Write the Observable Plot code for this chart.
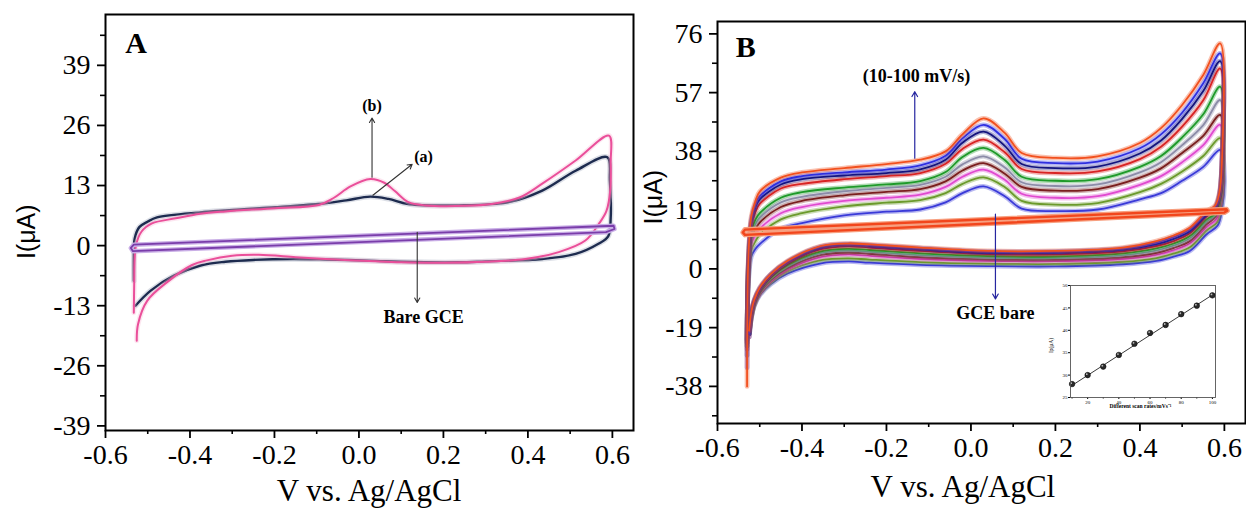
<!DOCTYPE html>
<html><head><meta charset="utf-8">
<style>
body{margin:0;background:#fff}
#wrap{position:relative;width:1246px;height:508px;overflow:hidden;background:#fff}
.p{position:absolute}
</style>
<script src="https://cdn.jsdelivr.net/npm/d3@7"></script>
<script src="https://cdn.jsdelivr.net/npm/@observablehq/plot@0.6"></script>
</head><body><div id="wrap"></div>
<script>
// ---------- ticks ----------
const xTicks = [-0.6,-0.4,-0.2,0.0,0.2,0.4,0.6];
const xMinor = [-0.5,-0.3,-0.1,0.1,0.3,0.5];
const yTicksA = [-39,-26,-13,0,13,26,39];
const yMinorA = [-32.5,-19.5,-6.5,6.5,19.5,32.5,45.5];
const yTicksB = [-38,-19,0,19,38,57,76];
const yMinorB = [-47.5,-28.5,-9.5,9.5,28.5,47.5,66.5];

// ---------- panel A : [V, I(µA)] in sweep order ----------
const cvA_a = [[-0.533,-7.6],[-0.533,-2.5],[-0.531,1.5],[-0.52,4.0],[-0.5,5.2],[-0.478,6.1],[-0.375,7.2],[-0.316,7.6],[-0.198,8.3],[-0.095,9.0],[-0.03,9.8],[0.027,10.6],[0.07,10.1],[0.117,9.0],[0.236,8.7],[0.354,9.4],[0.434,11.9],[0.513,16.2],[0.588,19.1],[0.594,14],[0.596,6],[0.59,2.0],[0.567,0.4],[0.513,-1.8],[0.434,-2.9],[0.3,-3.4],[0.236,-3.6],[0.1,-3.5],[0.039,-3.3],[-0.08,-3.0],[-0.158,-2.9],[-0.25,-3.1],[-0.316,-3.5],[-0.375,-4.3],[-0.438,-6.5],[-0.493,-9.75],[-0.529,-13]];
const cvA_b = [[-0.533,-14.5],[-0.532,-8],[-0.531,-3],[-0.528,0],[-0.515,3],[-0.49,4.8],[-0.434,5.9],[-0.375,6.9],[-0.316,7.4],[-0.198,8.1],[-0.095,8.8],[-0.06,10.3],[-0.02,12.8],[0.027,14.4],[0.06,13.6],[0.085,11.8],[0.117,9.4],[0.158,8.7],[0.25,8.6],[0.315,9.0],[0.38,10.4],[0.434,13.4],[0.513,18.4],[0.592,23.8],[0.596,18],[0.595,12],[0.586,7.5],[0.568,4.7],[0.536,1.1],[0.473,-1.4],[0.394,-2.9],[0.3,-3.5],[0.2,-3.7],[0.1,-3.6],[0.039,-3.4],[-0.079,-2.9],[-0.15,-2.5],[-0.237,-2.0],[-0.3,-2.2],[-0.36,-3.2],[-0.395,-4.2],[-0.454,-7.9],[-0.501,-11.9],[-0.523,-17],[-0.526,-20.6]];
const cvA_bare = [[-0.535,-1.2],[0.585,2.9],[0.605,3.6],[0.603,4.3],[-0.533,0.2],[-0.54,-0.5],[-0.535,-1.2]];

// ---------- panel B : scan rates 10..100 mV/s ----------
const rates = [10,20,30,40,50,60,70,80,90,100];
const colorsB = ["#3a3ad8","#6b9a2c","#e04ad0","#7a1f1f","#8c8ca8","#1f9a2a","#d82424","#14147e","#2f2fe0","#f2501e"];
const startMinB = [-23,-23,-24,-24,-25,-25,-26,-28,-32,-38];
const vLeftB = [-0.527,-0.52,-0.51];
const leftB1 = [-5,-4,-3,-2,-1,0,1,1,2,3];
const leftB2 = [4,6,8,10,11,12,14,15,16,17];
const leftB3 = [6.5,9,11,13,14.5,16,18.5,20,21,22];
const vUpB = [-0.5,-0.45,-0.4,-0.3,-0.2,-0.12,-0.06,-0.02,0.03,0.08,0.12,0.2,0.3,0.4,0.45,0.5,0.55,0.59];
const upB_10  = [8,13,14.8,17.3,18.5,19.2,21.5,24.5,26.7,23.5,19.5,18.7,19.2,22.5,24.5,28.5,33,38.5];
const upB_20  = [11,16,18,20.2,21.4,22.2,24.5,27.5,29.6,26.5,22,20.8,21.3,24.8,27.5,31.5,36.5,42.3];
const upB_30  = [13,18,20,22,23,24,26.5,29.8,32.1,28.8,24.3,23,23.5,27.2,30,34.5,40,46.6];
const upB_40  = [15,20,22,23.8,24.9,25.8,28.3,31.8,34.2,30.8,26.5,25.3,25.8,29.5,32.5,37.5,43,49.8];
const upB_50  = [16.5,21.5,23.3,25.1,26.2,27.2,29.8,33.8,36.4,32.8,28,26.8,27.3,31.2,34.5,40,46.5,54.6];
const upB_60  = [18,23,24.8,26.3,27.3,28.4,31.3,36.2,39.1,35.2,29.8,28.5,29,33,36.5,42.5,50,58.9];
const upB_70  = [21,26,27.5,29,30,31,34,38.8,41.8,37.7,32.3,31,31.5,35.5,39.5,46,54.5,64.8];
const upB_80  = [22.5,27.3,29,30.2,31,32.2,35.3,40.8,44.4,39.8,33.9,32.6,33.1,37.3,41.5,48.5,57.5,67.2];
const upB_90  = [23.5,28.3,30,31.2,32.1,33.5,36.6,42.2,46.6,42,35.6,34.2,34.7,39,43.5,50.5,60,69.7];
const upB_100 = [25,29.5,31.2,32.6,33.9,35.3,38,43.5,48.7,44,37.5,35.9,36.4,40.7,45.5,53,62.7,72.9];
const vDrop1 = [0.6,0.598,0.597,0.596,0.595,0.595,0.594,0.594,0.594,0.594];
const vDrop2 = [0.594,0.592,0.591,0.59,0.589,0.589,0.588,0.588,0.588,0.588];
const vDrop3 = [0.584,0.582,0.581,0.58,0.579,0.579,0.578,0.578,0.578,0.578];
const dropB1 = [30,30,31,31,32,32,33,33,34,34];
const dropB2 = [19,20,21,21.5,22,22.5,23,23.5,24,24.5];
const dropB3 = [14,15,16,17,17.5,18,19,19.5,20,20.5];
const vLoB = [0.558,0.518,0.48,0.439,0.36,0.2,0.04,-0.12,-0.24,-0.29,-0.355,-0.434,-0.474,-0.5,-0.513,-0.52,-0.525];
const loB_10  = [11.2,5.8,4.0,2.6,1.5,0.8,0.9,1.3,2.0,2.4,1.8,-1.5,-4.9,-8.5,-12,-16,-22];
const loB_20  = [12.5,7.0,5.0,3.5,2.3,1.6,1.7,2.2,3.0,3.4,2.8,-0.8,-4.5,-8.2,-11.8,-16,-22];
const loB_30  = [13.5,8.2,6.0,4.5,3.2,2.5,2.6,3.2,4.2,4.6,3.8,-0.2,-4,-8,-11.6,-16,-22];
const loB_40  = [14.5,9.0,6.8,5.2,3.8,3.0,3.1,3.8,4.9,5.3,4.5,0.3,-3.6,-7.7,-11.4,-15.5,-21];
const loB_50  = [15.3,9.8,7.5,5.9,4.4,3.5,3.6,4.4,5.5,5.9,5.1,0.8,-3.2,-7.4,-11.2,-15.5,-21];
const loB_60  = [16,10.6,8.2,6.6,5.0,4.0,4.1,5.0,6.1,6.5,5.7,1.3,-2.8,-7.1,-11,-15,-21];
const loB_70  = [17,11.5,9.0,7.4,5.7,4.7,4.8,5.8,6.9,7.3,6.4,1.8,-2.4,-6.8,-10.6,-14.5,-21];
const loB_80  = [17.5,12.2,9.7,8.0,6.2,5.2,5.2,6.3,7.4,7.8,6.9,2.2,-2.0,-6.5,-10.3,-14.5,-21];
const loB_90  = [18.2,12.8,10.3,8.5,6.6,5.6,5.6,6.7,7.7,8.0,7.2,2.4,-1.8,-6.2,-10.1,-14,-21];
const loB_100 = [18.7,13.3,10.8,9.0,6.9,5.8,5.8,6.9,7.9,8.2,7.4,2.6,-1.7,-6,-10,-14,-20];
const cvB_bare = [[-0.535,11.0],[0.6,18.2],[0.607,18.8],[0.605,19.3],[-0.535,12.7],[-0.54,11.8],[-0.535,11.0]];

// ---------- inset: peak current vs scan rate ----------
const scanRates = [10,20,30,40,50,60,70,80,90,100];
const peakCurrents = [28.0,30.0,31.9,34.5,37.0,39.4,41.2,43.6,45.5,47.8];
const fitRates = [10,100];
const fitCurrents = [27.7,47.9];
const insetXTicks = [20,40,60,80,100];
const insetXMinor = [10,30,50,70,90];
const insetYTicks = [25,30,35,40,45,50];

// ---------- helpers ----------
const serif = "Liberation Serif, Times New Roman, serif";
const upRows = [upB_10,upB_20,upB_30,upB_40,upB_50,upB_60,upB_70,upB_80,upB_90,upB_100];
const loRows = [loB_10,loB_20,loB_30,loB_40,loB_50,loB_60,loB_70,loB_80,loB_90,loB_100];
const curvesB = rates.map((r, i) => {
  const pts = [[-0.53, startMinB[i]], [vLeftB[0], leftB1[i]], [vLeftB[1], leftB2[i]], [vLeftB[2], leftB3[i]]];
  vUpB.forEach((v, j) => pts.push([v, upRows[i][j]]));
  pts.push([vDrop1[i], dropB1[i]], [vDrop2[i], dropB2[i]], [vDrop3[i], dropB3[i]]);
  vLoB.forEach((v, j) => pts.push([v, loRows[i][j]]));
  return pts;
});

function axes(yt, ym) {
  return [
    Plot.axisX({ticks: xTicks, tickSize: 8, tickPadding: 6, tickFormat: d => d.toFixed(1), strokeWidth: 1.8, fontSize: 28, fontFamily: serif, label: null}),
    Plot.axisX({ticks: xMinor, tickSize: 4, tickFormat: () => "", strokeWidth: 1.6, label: null}),
    Plot.axisY({ticks: yt, tickSize: 8, tickPadding: 7, tickFormat: d => String(d), strokeWidth: 1.8, fontSize: 28, fontFamily: serif, label: null}),
    Plot.axisY({ticks: ym, tickSize: 5, tickFormat: () => "", strokeWidth: 1.6, label: null})
  ];
}
function cv(pts, color, w, glow) {
  const o = {x: d => d[0], y: d => d[1], curve: "catmull-rom"};
  return [
    Plot.line(pts, {...o, stroke: glow, strokeWidth: w + 3, strokeOpacity: 0.35}),
    Plot.line(pts, {...o, stroke: color, strokeWidth: w})
  ];
}
function label(x, y, t, extra) {
  return Plot.text([{x, y, t}], {x: "x", y: "y", text: "t", fontFamily: serif, ...extra});
}
function place(el, left, top) {
  const d = document.createElement("div");
  d.className = "p"; d.style.left = left + "px"; d.style.top = top + "px";
  d.appendChild(el);
  document.getElementById("wrap").appendChild(d);
}
const baseStyle = {background: "transparent", color: "black", fontFamily: serif, fontSize: "28px", overflow: "visible"};

// ---------- Panel A ----------
const plotA = Plot.plot({
  width: 640, height: 508,
  marginLeft: 105, marginRight: 7, marginTop: 14, marginBottom: 78,
  x: {domain: [-0.6, 0.65], axis: null},
  y: {domain: [-40, 50], axis: null},
  style: baseStyle,
  marks: [
    ...cv(cvA_a, "#1d2b4f", 2.4, "#9aa3b8"),
    ...cv(cvA_b, "#ea4f9a", 2.0, "#f6b6d4"),
    Plot.line(cvA_bare, {x: d => d[0], y: d => d[1], stroke: "#c9aee6", strokeWidth: 4.5}),
    Plot.line(cvA_bare, {x: d => d[0], y: d => d[1], stroke: "#7a3daa", strokeWidth: 1.8}),
    Plot.arrow([{x1: 0.031, y1: 14.8, x2: 0.031, y2: 27.6}], {x1: "x1", y1: "y1", x2: "x2", y2: "y2", stroke: "#333", strokeWidth: 1.1, headLength: 7}),
    Plot.arrow([{x1: 0.033, y1: 10.9, x2: 0.126, y2: 17.6}], {x1: "x1", y1: "y1", x2: "x2", y2: "y2", stroke: "#333", strokeWidth: 1.1, headLength: 7}),
    Plot.arrow([{x1: 0.138, y1: 2.9, x2: 0.138, y2: -12.3}], {x1: "x1", y1: "y1", x2: "x2", y2: "y2", stroke: "#333", strokeWidth: 1.1, headLength: 7}),
    label(0.031, 30.3, "(b)", {fontSize: 16, fontWeight: "bold", lineAnchor: "middle"}),
    label(0.153, 19.1, "(a)", {fontSize: 16, fontWeight: "bold", lineAnchor: "middle"}),
    label(0.153, -15.4, "Bare GCE", {fontSize: 18, fontWeight: "bold", lineAnchor: "middle"}),
    label(-0.553, 41.6, "A", {fontSize: 30, fontWeight: "bold", textAnchor: "start", lineAnchor: "bottom"}),
    label(-0.768, 3.0, "I(μA)", {fontSize: 25, fontFamily: "Liberation Sans, Arial, sans-serif", rotate: -90, lineAnchor: "bottom"}),
    label(0.024, -55.3, "V vs. Ag/AgCl", {fontSize: 31, lineAnchor: "bottom"}),
    ...axes(yTicksA, yMinorA),
    Plot.frame({stroke: "black", strokeWidth: 2})
  ]
});
place(plotA, 0, 0);

// ---------- Panel B ----------
const plotB = Plot.plot({
  width: 606, height: 508,
  marginLeft: 77, marginRight: 1, marginTop: 21, marginBottom: 85,
  x: {domain: [-0.6, 0.65], axis: null},
  y: {domain: [-50, 80], axis: null},
  style: baseStyle,
  marks: [
    ...curvesB.flatMap((pts, i) => cv(pts, colorsB[i], 1.8, colorsB[i])),
    Plot.line(cvB_bare, {x: d => d[0], y: d => d[1], stroke: "#f7a080", strokeWidth: 5}),
    Plot.line(cvB_bare, {x: d => d[0], y: d => d[1], stroke: "#f2461c", strokeWidth: 2.4}),
    Plot.arrow([{x1: -0.133, y1: 35.8, x2: -0.133, y2: 57.3}], {x1: "x1", y1: "y1", x2: "x2", y2: "y2", stroke: "#2626a0", strokeWidth: 1.2, headLength: 7}),
    Plot.arrow([{x1: 0.058, y1: 17.7, x2: 0.058, y2: -9.7}], {x1: "x1", y1: "y1", x2: "x2", y2: "y2", stroke: "#2626a0", strokeWidth: 1.2, headLength: 7}),
    label(-0.129, 62.2, "(10-100 mV/s)", {fontSize: 18, fontWeight: "bold", lineAnchor: "middle"}),
    label(0.058, -14.5, "GCE bare", {fontSize: 18, fontWeight: "bold", lineAnchor: "middle"}),
    label(-0.557, 68.6, "B", {fontSize: 30, fontWeight: "bold", textAnchor: "start", lineAnchor: "bottom"}),
    label(-0.731, 23.2, "I(μA)", {fontSize: 25, fontFamily: "Liberation Sans, Arial, sans-serif", rotate: -90, lineAnchor: "bottom"}),
    label(-0.019, -73.8, "V vs. Ag/AgCl", {fontSize: 31, lineAnchor: "bottom"}),
    ...axes(yTicksB, yMinorB),
    Plot.frame({stroke: "black", strokeWidth: 2})
  ]
});
place(plotB, 640, 0);

// ---------- Inset ----------
const inset = Plot.plot({
  width: 180, height: 132,
  marginLeft: 30, marginRight: 5, marginTop: 5, marginBottom: 15,
  x: {domain: [9, 102], axis: null},
  y: {domain: [25, 50], axis: null},
  style: {...baseStyle, fontSize: "5px"},
  marks: [
    Plot.line(fitRates.map((r, i) => ({r, c: fitCurrents[i]})), {x: "r", y: "c", stroke: "#222", strokeWidth: 0.9}),
    Plot.dot(scanRates.map((r, i) => ({r, c: peakCurrents[i]})), {x: "r", y: "c", r: 2.8, fill: "#2a2a2a", stroke: "#000", strokeWidth: 0.5}),
    Plot.dot(scanRates.map((r, i) => ({r, c: peakCurrents[i]})), {x: "r", y: "c", r: 0.9, fill: "#bbb", dx: -0.9, dy: -0.9}),
    Plot.axisX({ticks: insetXTicks, tickSize: 2, tickPadding: 1, fontSize: 5, fontFamily: serif, label: null}),
    Plot.axisX({ticks: insetXMinor, tickSize: 1.5, tickFormat: () => "", label: null}),
    Plot.axisY({ticks: insetYTicks, tickSize: 2, tickPadding: 1, fontSize: 5, fontFamily: serif, label: null}),
    label(-3.2, 36.6, "Ip(μA)", {fontSize: 5.5, rotate: -90, lineAnchor: "middle"}),
    label(53.9, 23.0, "Different scan rates/mVs⁻¹", {fontSize: 5.5, fontWeight: "bold", lineAnchor: "middle"}),
    Plot.frame({stroke: "#555", strokeWidth: 0.9})
  ]
});
place(inset, 1040, 280);
</script>
</body></html>
